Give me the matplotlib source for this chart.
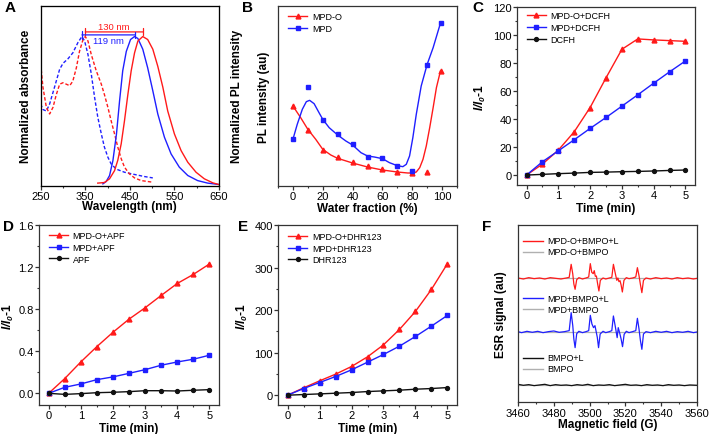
import numpy as np
import matplotlib
matplotlib.use('Agg')
import matplotlib.pyplot as plt
from matplotlib.ticker import MultipleLocator, FormatStrFormatter, NullLocator

plt.rcParams['font.family'] = ['Liberation Sans', 'DejaVu Sans']
plt.rcParams['mathtext.fontset'] = 'custom'
plt.rcParams['mathtext.rm'] = 'Liberation Sans'
plt.rcParams['mathtext.it'] = 'Liberation Sans:italic'
plt.rcParams['mathtext.bf'] = 'Liberation Sans:bold'
plt.rcParams['mathtext.bfit'] = 'Liberation Sans:italic:bold'

RED = '#ff1a1a'
BLUE = '#1f1fff'
BLACK = '#111111'
GRAY = '#b0b0b0'

# ── panel A : absorbance (dashed) and PL (solid) spectra ──────────────────────
a_red_pl_x = [378, 393, 404.5, 415.7, 423, 430.6, 438, 445.5, 453, 460.5, 468, 479,
              490, 501.5, 512.7, 524, 535, 550, 565, 580, 598.5, 617, 636, 649]
a_red_pl_y = [0.016, 0.02, 0.045, 0.10, 0.17, 0.28, 0.435, 0.61, 0.77, 0.89, 0.97, 1.0,
              0.98, 0.915, 0.80, 0.66, 0.50, 0.346, 0.234, 0.156, 0.089, 0.045, 0.018, 0.007]
a_blue_pl_x = [389.5, 397, 404.5, 412, 420, 427, 434, 442, 451.5, 460.5, 468, 479,
               490, 501.5, 512.7, 527.6, 542.5, 561, 580, 602, 624.6, 649]
a_blue_pl_y = [0.011, 0.027, 0.067, 0.167, 0.346, 0.57, 0.77, 0.90, 0.98, 1.0, 0.987, 0.915,
               0.79, 0.636, 0.48, 0.324, 0.212, 0.123, 0.067, 0.033, 0.016, 0.007]
a_blue_abs_x = [250, 255, 262.7, 270, 281, 292.5, 300, 311, 322, 333.6, 342.5, 348.5, 356,
                363.4, 371, 378, 386, 393, 400.7, 408, 419.5, 438, 460.5, 483, 501.5]
a_blue_abs_y = [0.547, 0.51, 0.50, 0.547, 0.66, 0.78, 0.82, 0.85, 0.89, 0.96, 1.0, 0.97, 0.88,
                0.75, 0.59, 0.46, 0.346, 0.257, 0.19, 0.145, 0.11, 0.089, 0.074, 0.06, 0.051]
a_red_abs_x = [250, 255, 262.7, 270, 277.6, 285, 292.5, 300, 307.5, 315, 322, 330, 337, 345,
               350, 356, 363.4, 374.6, 386, 393, 400.7, 408, 415.7, 423, 430.6, 438, 449,
               460.5, 475.4, 501.5]
a_red_abs_y = [0.815, 0.66, 0.525, 0.48, 0.525, 0.61, 0.68, 0.69, 0.68, 0.67, 0.70, 0.79, 0.90,
               0.98, 1.0, 0.97, 0.88, 0.77, 0.68, 0.61, 0.525, 0.435, 0.346, 0.257, 0.18,
               0.123, 0.078, 0.051, 0.033, 0.022]
a_red_shift = (350, 480)
a_blue_shift = (342.5, 461.5)
a_xticks = [250, 350, 450, 550, 650]

# ── panel B : PL intensity vs water fraction ─────────────────────────────────
b_fw = [0, 10, 20, 30, 40, 50, 60, 70, 80, 90, 99]
b_mpdo = [24, 16.8, 10.8, 8.6, 7.3, 6.0, 5.1, 4.2, 3.8, 4.2, 34.5]
b_mpd = [14, 29.7, 19.9, 15.5, 12.5, 8.8, 8.5, 6.1, 4.5, 36.2, 49]
# smoothed guide curves as drawn in the figure
b_mpdo_fit_x = [0, 5.2, 10, 15.3, 20, 25.4, 30, 40, 50, 60, 70, 77, 80, 82.7, 85, 87.2,
                89.4, 91.7, 94, 96.2, 98.9]
b_mpdo_fit_y = [24, 20.5, 17, 14, 11, 9.3, 8.3, 6.9, 5.7, 4.8, 4.2, 3.9, 3.9, 4.2, 5.5, 8,
                12, 17.5, 23.5, 29.5, 34.5]
b_mpd_fit_x = [0, 2.9, 6.3, 9, 11.2, 14.2, 17.5, 20, 24.3, 30, 35.5, 40, 45.6, 50, 54.6,
               60, 64.7, 70, 73.7, 76, 78.2, 80.4, 82.7, 86, 90, 94, 99]
b_mpd_fit_y = [14, 18.5, 23, 25.3, 25.7, 24.7, 22, 20, 17.5, 15.3, 13.5, 12.3, 10, 9, 8.7,
               8.2, 7, 6.1, 5.8, 6.5, 9, 14.5, 21.5, 30, 36.5, 41.5, 49]

# ── panels C, D, E : probe kinetics ──────────────────────────────────────────
t_min = [0, 0.5, 1, 1.5, 2, 2.5, 3, 3.5, 4, 4.5, 5]
c_mpdo = [0, 7.8, 17.8, 30.9, 48.2, 69.4, 89.8, 97.2, 96.5, 96.0, 95.5]
c_mpd = [0, 9.5, 17.3, 25.2, 33.3, 41.1, 49.2, 57.3, 65.6, 73.7, 81.5]
c_dcfh = [0, 0.5, 1.0, 1.4, 1.9, 2.1, 2.4, 2.6, 2.9, 3.3, 3.6]
d_mpdo = [0, 0.14, 0.298, 0.444, 0.58, 0.705, 0.813, 0.93, 1.044, 1.13, 1.229]
d_mpd = [0, 0.057, 0.089, 0.13, 0.156, 0.19, 0.225, 0.267, 0.298, 0.324, 0.362]
d_apf = [0, -0.01, -0.003, 0.006, 0.01, 0.016, 0.025, 0.025, 0.022, 0.029, 0.035]
e_mpdo = [0, 17.3, 33.7, 49.4, 67.5, 90.2, 118.4, 154.5, 196.9, 248.6, 309]
e_mpd = [0, 15.7, 29.8, 43.9, 59.6, 77.6, 95.7, 115.3, 138, 162.4, 187.5]
e_dhr = [0, 1.6, 3.1, 4.7, 6.3, 8.6, 10.2, 11.8, 14.1, 15.7, 18]

# ── panel F : ESR spectra ────────────────────────────────────────────────────
f_red_x = [3460, 3463, 3466, 3469, 3472, 3475, 3478, 3481, 3484, 3487, 3488.6, 3489.7,
           3490.6, 3491.2, 3491.9, 3492.8, 3494, 3496, 3498, 3499.5, 3500.4, 3501.2, 3502.0,
           3502.6, 3503.2, 3503.8, 3504.5, 3505.2, 3506.0, 3507.5, 3509, 3511, 3512.4,
           3513.3, 3514.3, 3515.2, 3515.8, 3516.4, 3517.0, 3517.6, 3518.3, 3519.2, 3520.5,
           3522, 3524, 3525.8, 3526.7, 3527.6, 3528.4, 3529.2, 3530.1, 3531.5, 3534, 3537,
           3540, 3543, 3546, 3549, 3552, 3555, 3558, 3560]
f_red_y = [37.3, 37.0, 37.4, 37.1, 37.3, 37.0, 37.4, 37.2, 37.0, 37.3, 37.5, 41.4,
           38.5, 35.5, 33.9, 36.8, 37.4, 37.0, 37.3, 37.6, 41.6, 39.0, 38.6,
           39.5, 37.8, 37.9, 35.5, 33.4, 36.6, 37.3, 37.0, 37.3, 37.5,
           41.4, 38.8, 36.6, 37.3, 36.2, 36.5, 35.2, 33.1, 36.6, 37.4,
           37.1, 37.3, 37.6, 40.4, 38.0, 35.3, 32.9, 36.6, 37.3, 37.0, 37.4,
           37.1, 37.3, 37.0, 37.4, 37.1, 37.3, 37.0, 37.2]
f_blue_x = [3460, 3462, 3465, 3468, 3471, 3474, 3477, 3480, 3483, 3486, 3488.6, 3489.7,
            3490.6, 3491.2, 3491.9, 3492.8, 3494, 3496, 3498, 3499.5, 3500.4, 3501.3, 3502.2,
            3503.0, 3503.6, 3504.3, 3505.0, 3505.9, 3507.5, 3509, 3511, 3512.4, 3513.3,
            3514.4, 3515.4, 3516.0, 3516.8, 3517.6, 3518.4, 3519.3, 3520.5, 3522, 3524,
            3525.8, 3526.7, 3527.6, 3528.4, 3529.2, 3530.1, 3531.5, 3534, 3537, 3540, 3543,
            3546, 3549, 3552, 3555, 3558, 3560]
f_blue_y = [21.2, 20.9, 21.3, 21.0, 21.3, 20.9, 21.2, 21.4, 21.0, 21.2, 21.5, 26.9,
            23.0, 19.0, 16.4, 20.6, 21.3, 20.9, 21.2, 21.5, 26.1, 23.5, 22.4,
            23.0, 21.4, 19.5, 16.4, 20.5, 21.3, 20.9, 21.2, 21.5, 25.9,
            22.6, 19.4, 22.4, 20.8, 19.0, 16.7, 20.4, 21.3, 20.9, 21.2,
            21.5, 25.2, 22.0, 18.5, 15.9, 20.5, 21.2, 20.9, 21.3, 21.0, 21.3,
            20.9, 21.2, 21.0, 21.3, 20.9, 21.1]
f_black_x = [3460, 3463, 3466, 3469, 3472, 3475, 3478, 3481, 3484, 3487, 3490, 3493, 3496,
             3499, 3502, 3505, 3508, 3511, 3514, 3517, 3520, 3523, 3526, 3529, 3532, 3535,
             3538, 3541, 3544, 3547, 3550, 3553, 3556, 3560]
f_black_y = [5.4, 5.1, 5.3, 5.0, 5.2, 5.4, 5.0, 5.3, 5.1, 5.2, 5.0, 5.3, 5.1, 5.4, 5.0,
             5.2, 5.1, 5.3, 5.0, 5.2, 5.4, 5.1, 5.2, 5.0, 5.3, 5.1, 5.2, 5.0, 5.3, 5.1,
             5.2, 5.0, 5.2, 5.1]
f_gray_x = [3460, 3560]
f_gray_levels = [37.2, 21.1, 5.1]
f_labels = [('MPD-O+BMPO+L', 'MPD-O+BMPO'), ('MPD+BMPO+L', 'MPD+BMPO'), ('BMPO+L', 'BMPO')]

# ══════════════════════════════════════════════════════════════════════════════
W, H = 709, 435
fig = plt.figure(figsize=(W / 100, H / 100), dpi=100)
LEG_FS = 6.5


def add_axes(l, t, r, b):
    return fig.add_axes([l / W, 1 - b / H, (r - l) / W, (b - t) / H])


def style(ax):
    for s in ax.spines.values():
        s.set_color('#333333')
        s.set_linewidth(0.9)
    ax.tick_params(axis='both', which='both', direction='out', colors='#333333',
                   labelcolor='black', labelsize=8, top=False, right=False, pad=1.2)
    ax.tick_params(which='major', length=2.6, width=0.9)
    ax.tick_params(which='minor', length=1.6, width=0.8)


def legend(ax, handles, labels, anchor):
    leg_kw = dict(loc='upper left', frameon=False, fontsize=LEG_FS, handlelength=2.1,
                  handletextpad=0.5, labelspacing=0.3, borderpad=0, borderaxespad=0,
                  bbox_to_anchor=anchor)
    if handles is None:
        ax.legend(labels, **leg_kw)
    else:
        ax.legend(handles, labels, **leg_kw)


LAB = dict(fontsize=8.5, fontweight='bold')
YLAB = r'$\mathbfit{I/I_0}$-1'

# A
axA = add_axes(40.7, 7, 219, 186.5)
style(axA)
axA.plot(a_blue_abs_x, a_blue_abs_y, color=BLUE, lw=1.0, ls=(0, (2.5, 1.5)))
axA.plot(a_red_abs_x, a_red_abs_y, color=RED, lw=1.0, ls=(0, (2.5, 1.5)))
axA.plot(a_blue_pl_x, a_blue_pl_y, color=BLUE, lw=1.0)
axA.plot(a_red_pl_x, a_red_pl_y, color=RED, lw=1.0)
axA.annotate('', xy=(a_red_shift[1], 1.031), xytext=(a_red_shift[0], 1.031),
             arrowprops=dict(arrowstyle='|-|, widthA=0.25, widthB=0.25', color=RED, lw=0.9,
                             shrinkA=0, shrinkB=0))
axA.annotate('', xy=(a_blue_shift[1], 1.011), xytext=(a_blue_shift[0], 1.011),
             arrowprops=dict(arrowstyle='|-|, widthA=0.3, widthB=0.2', color=BLUE, lw=0.9,
                             shrinkA=0, shrinkB=0))
axA.text(415, 1.065, '130 nm', color=RED, fontsize=6.8, ha='center', va='center')
axA.text(402, 0.975, '119 nm', color=BLUE, fontsize=6.8, ha='center', va='center')
axA.set_xlim(250, 650)
axA.set_ylim(0, 1.205)
axA.set_xticks(a_xticks)
axA.xaxis.set_minor_locator(MultipleLocator(50))
axA.yaxis.set_major_locator(NullLocator())
axA.set_xlabel('Wavelength (nm)', **LAB)
axA.set_ylabel('Normalized absorbance', **LAB)
axA.xaxis.set_label_coords(0.5, -0.083)
axA.yaxis.set_label_coords(-0.05, 0.5)
axA2 = axA.twinx()
axA2.yaxis.set_major_locator(NullLocator())
axA2.set_ylabel('Normalized PL intensity', **LAB)
axA2.yaxis.set_label_coords(1.067, 0.5)

# B
axB = add_axes(278, 7, 457, 187)
style(axB)
axB.plot(b_mpdo_fit_x, b_mpdo_fit_y, color=RED, lw=1.0)
axB.plot(b_mpd_fit_x, b_mpd_fit_y, color=BLUE, lw=1.0)
axB.plot(b_fw, b_mpdo, ls='none', marker='^', ms=3.5, color=RED)
axB.plot(b_fw, b_mpd, ls='none', marker='s', ms=3.2, color=BLUE)
hB = [plt.Line2D([], [], color=RED, lw=1.0, marker='^', ms=3.5),
      plt.Line2D([], [], color=BLUE, lw=1.0, marker='s', ms=3.2)]
legend(axB, hB, ['MPD-O', 'MPD'], (0.058, 0.966))
axB.set_xlim(-10, 110)
axB.set_ylim(0, 54)
axB.xaxis.set_major_locator(MultipleLocator(20))
axB.xaxis.set_minor_locator(MultipleLocator(10))
axB.yaxis.set_major_locator(NullLocator())
axB.set_xlabel('Water fraction (%)', **LAB)
axB.set_ylabel('PL intensity (au)', **LAB)
axB.xaxis.set_label_coords(0.5, -0.088)
axB.yaxis.set_label_coords(-0.045, 0.5)


def kinetics(ax, series, labels, ylim, ystep, anchor, fmt=None):
    style(ax)
    colors = [RED, BLUE, BLACK]
    markers = [('^', 3.5), ('s', 3.2), ('o', 2.8)]
    for y, c, (m, ms) in zip(series, colors, markers):
        ax.plot(t_min, y, color=c, lw=1.0, marker=m, ms=ms)
    legend(ax, None, labels, anchor)
    ax.set_xlim(-0.3, 5.3)
    ax.set_ylim(*ylim)
    ax.xaxis.set_major_locator(MultipleLocator(1))
    ax.xaxis.set_minor_locator(MultipleLocator(0.5))
    ax.yaxis.set_major_locator(MultipleLocator(ystep))
    ax.yaxis.set_minor_locator(MultipleLocator(ystep / 2))
    if fmt:
        ax.yaxis.set_major_formatter(FormatStrFormatter(fmt))
    ax.set_xlabel('Time (min)', **LAB)
    ax.set_ylabel(YLAB, **LAB)


# C
axC = add_axes(517, 8, 695, 186)
kinetics(axC, [c_mpdo, c_mpd, c_dcfh], ['MPD-O+DCFH', 'MPD+DCFH', 'DCFH'], (-7.1, 120), 20,
         (0.054, 0.975))
axC.xaxis.set_label_coords(0.5, -0.097)
axC.yaxis.set_label_coords(-0.165, 0.5)

# D
axD = add_axes(39, 226, 219, 406)
kinetics(axD, [d_mpdo, d_mpd, d_apf], ['MPD-O+APF', 'MPD+APF', 'APF'], (-0.111, 1.6), 0.4,
         (0.056, 0.966), '%.1f')
axD.xaxis.set_label_coords(0.5, -0.092)
axD.yaxis.set_label_coords(-0.13, 0.5)

# E
axE = add_axes(278, 226, 457, 406)
kinetics(axE, [e_mpdo, e_mpd, e_dhr], ['MPD-O+DHR123', 'MPD+DHR123', 'DHR123'], (-23, 400), 100,
         (0.058, 0.961))
axE.xaxis.set_label_coords(0.5, -0.092)
axE.yaxis.set_label_coords(-0.158, 0.5)

# F
axF = add_axes(518, 226, 697, 403.3)
style(axF)
for lvl in f_gray_levels:
    axF.plot(f_gray_x, [lvl, lvl], color=GRAY, lw=0.9)
axF.plot(f_red_x, f_red_y, color=RED, lw=0.9)
axF.plot(f_blue_x, f_blue_y, color=BLUE, lw=0.9)
axF.plot(f_black_x, f_black_y, color=BLACK, lw=0.9)
for (lab1, lab2), c, ytop in zip(f_labels, [RED, BLUE, BLACK], [0.91, 0.586, 0.252]):
    for lab, col, yy in [(lab1, c, ytop), (lab2, GRAY, ytop - 0.062)]:
        axF.plot([0.028, 0.142], [yy, yy], color=col, lw=1.0, transform=axF.transAxes)
        axF.text(0.162, yy, lab, transform=axF.transAxes, fontsize=LEG_FS, va='center')
axF.set_xlim(3460, 3560)
axF.set_ylim(0, 53.2)
axF.xaxis.set_major_locator(MultipleLocator(20))
axF.xaxis.set_minor_locator(MultipleLocator(10))
axF.yaxis.set_major_locator(NullLocator())
axF.set_xlabel('Magnetic field (G)', **LAB)
axF.set_ylabel('ESR signal (au)', **LAB)
axF.xaxis.set_label_coords(0.5, -0.09)
axF.yaxis.set_label_coords(-0.061, 0.5)

for letter, x, y in [('A', 5, 3), ('B', 242, 3), ('C', 472, 3),
                     ('D', 3, 222), ('E', 238, 222), ('F', 482, 222)]:
    fig.text(x / W, 1 - (y - 1.5) / H, letter, fontsize=11, fontweight='bold',
             ha='left', va='top')

fig.savefig('out.png', dpi=100)
